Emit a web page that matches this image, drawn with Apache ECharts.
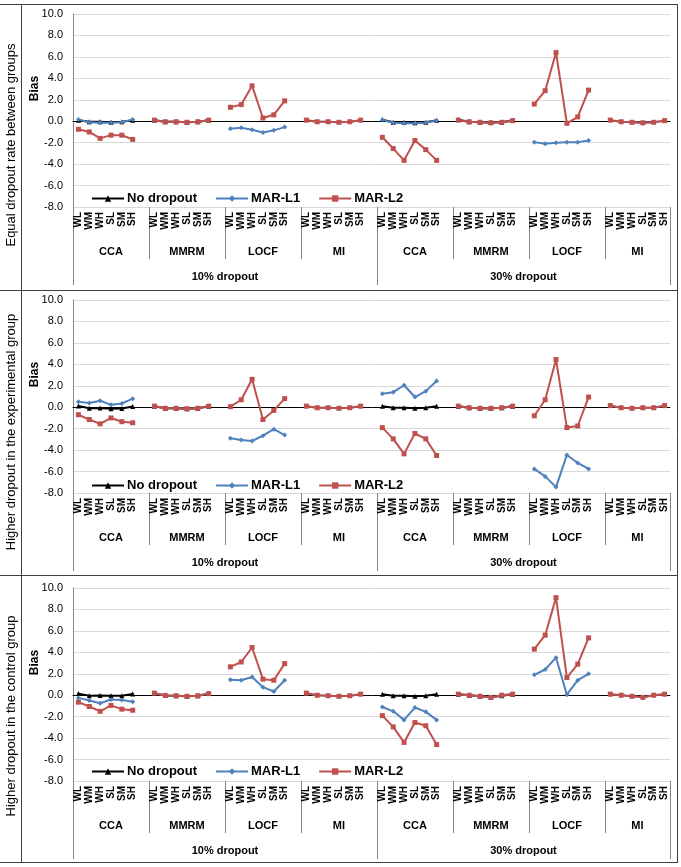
<!DOCTYPE html>
<html>
<head>
<meta charset="utf-8">
<script src="https://cdn.jsdelivr.net/npm/echarts@6.0.0/dist/echarts.min.js"></script>
<style>
  html, body { margin: 0; padding: 0; background: #fff; }
  #chart { width: 681px; height: 867px; }
</style>
</head>
<body>
<div id="chart"></div>
<script>
const scenarios = ['WL', 'WM', 'WH', 'SL', 'SM', 'SH']
const methods = ['CCA', 'MMRM', 'LOCF', 'MI']
const levels = ['10% dropout', '30% dropout']
const rowTitles = [
  'Equal dropout rate between groups',
  'Higher dropout in the experimental group',
  'Higher dropout in the control group',
]
const seriesNames = ['No dropout', 'MAR-L1', 'MAR-L2']

// values per panel, 8 groups x 6 scenarios (10%: CCA MMRM LOCF MI, 30%: CCA MMRM LOCF MI)
// no-dropout has no LOCF / MI values
const noDropEqual = [
  0.1, -0.05, -0.05, -0.1, -0.05, 0.1,   0.1, -0.05, -0.05, -0.1, -0.05, 0.1,
  null, null, null, null, null, null,    null, null, null, null, null, null,
  0.15, -0.1, -0.1, -0.15, -0.1, 0.1,    0.15, -0.05, -0.1, -0.1, -0.1, 0.1,
  null, null, null, null, null, null,    null, null, null, null, null, null,
]
const marL1Equal = [
  0.15, -0.1, -0.15, -0.15, -0.1, 0.15,  0.1, -0.05, -0.05, -0.1, -0.05, 0.1,
  -0.7, -0.6, -0.8, -1.05, -0.85, -0.55, 0.1, -0.05, -0.05, -0.1, -0.05, 0.1,
  0.12, -0.15, -0.2, -0.2, -0.15, 0.06,  0.1, -0.05, -0.1, -0.15, -0.1, 0.05,
  -1.95, -2.1, -2.0, -1.95, -1.95, -1.8, 0.1, -0.05, -0.1, -0.15, -0.1, 0.05,
]
const marL2Equal = [
  -0.75, -1.0, -1.6, -1.3, -1.3, -1.7,   0.1, -0.05, -0.05, -0.1, -0.05, 0.1,
  1.3, 1.55, 3.3, 0.3, 0.6, 1.9,         0.1, -0.05, -0.05, -0.1, -0.05, 0.1,
  -1.5, -2.55, -3.65, -1.8, -2.65, -3.65, 0.1, -0.05, -0.1, -0.15, -0.1, 0.05,
  1.6, 2.85, 6.4, -0.2, 0.4, 2.9,        0.1, -0.05, -0.1, -0.15, -0.1, 0.05,
]

const noDropExp = [
  0.12, -0.1, -0.08, -0.15, -0.12, 0.06, 0.1, -0.1, -0.1, -0.15, -0.1, 0.1,
  null, null, null, null, null, null,    null, null, null, null, null, null,
  0.1, -0.05, -0.05, -0.1, -0.05, 0.1,   0.1, -0.05, -0.1, -0.1, -0.05, 0.1,
  null, null, null, null, null, null,    null, null, null, null, null, null,
]
const marL1Exp = [
  0.5, 0.4, 0.6, 0.22, 0.35, 0.8,        0.1, -0.1, -0.1, -0.15, -0.1, 0.1,
  -2.9, -3.05, -3.15, -2.65, -2.05, -2.6, 0.1, -0.05, -0.05, -0.1, -0.05, 0.1,
  1.25, 1.4, 2.05, 0.95, 1.5, 2.45,      0.1, -0.05, -0.1, -0.1, -0.05, 0.1,
  -5.75, -6.45, -7.45, -4.45, -5.2, -5.75, 0.15, -0.05, -0.1, -0.05, -0.05, 0.15,
]
const marL2Exp = [
  -0.7, -1.15, -1.55, -1.0, -1.35, -1.45, 0.1, -0.1, -0.1, -0.15, -0.1, 0.1,
  0.05, 0.7, 2.6, -1.15, -0.3, 0.8,      0.1, -0.05, -0.05, -0.1, -0.05, 0.1,
  -1.9, -2.95, -4.35, -2.45, -2.95, -4.5, 0.1, -0.05, -0.1, -0.1, -0.05, 0.1,
  -0.8, 0.7, 4.45, -1.9, -1.75, 0.95,    0.15, -0.05, -0.1, -0.05, -0.05, 0.15,
]

const noDropCtrl = [
  0.15, -0.05, -0.02, -0.05, -0.05, 0.12, 0.15, -0.02, -0.05, -0.1, -0.05, 0.15,
  null, null, null, null, null, null,     null, null, null, null, null, null,
  0.1, -0.05, -0.05, -0.1, -0.05, 0.1,    0.1, 0, -0.1, -0.2, -0.05, 0.1,
  null, null, null, null, null, null,     null, null, null, null, null, null,
]
const marL1Ctrl = [
  -0.25, -0.5, -0.75, -0.4, -0.45, -0.6, 0.15, -0.02, -0.05, -0.1, -0.05, 0.15,
  1.45, 1.4, 1.7, 0.75, 0.35, 1.4,        0.15, 0, -0.05, -0.1, -0.05, 0.1,
  -1.1, -1.5, -2.3, -1.15, -1.55, -2.3,   0.1, 0, -0.1, -0.2, 0, 0.1,
  1.9, 2.4, 3.5, 0.05, 1.4, 2.0,          0.1, 0, -0.1, -0.2, 0, 0.1,
]
const marL2Ctrl = [
  -0.65, -1.05, -1.5, -0.95, -1.3, -1.4, 0.2, -0.02, -0.05, -0.1, -0.05, 0.15,
  2.65, 3.1, 4.45, 1.5, 1.4, 2.95,        0.2, 0, -0.05, -0.1, -0.05, 0.1,
  -1.9, -2.95, -4.4, -2.55, -2.85, -4.6,  0.1, 0, -0.1, -0.2, 0, 0.1,
  4.3, 5.6, 9.1, 1.65, 2.9, 5.35,         0.1, 0, -0.1, -0.2, 0, 0.1,
]

const panels = [
  [noDropEqual, marL1Equal, marL2Equal],
  [noDropExp, marL1Exp, marL2Exp],
  [noDropCtrl, marL1Ctrl, marL2Ctrl],
]

const colors = ['#000000', '#4F81BD', '#C0504D']
const symbols = ['triangle', 'diamond', 'rect']

// layout of the three panels (pixels)
const gridTops = [14, 300, 588]
const gridHeight = 193
const legendTops = [187, 474, 760]
const rowCenters = [145, 432, 716]
const hLines = [4.5, 290.5, 575.5, 862.5]

const FONT = '"Liberation Sans", Arial, sans-serif'

// groups: one gap category between groups, none after the last
const groups = []
levels.forEach((lv) => methods.forEach((m) => groups.push({ lv, m })))

const cats = []
groups.forEach((g, gi) => {
  scenarios.forEach((s) => cats.push(s))
  if (gi < groups.length - 1) cats.push('')
})
const nCats = cats.length

const padGaps = (vals) => {
  const out = []
  groups.forEach((g, gi) => {
    for (let k = 0; k < scenarios.length; k++) out.push(vals[gi * scenarios.length + k])
    if (gi < groups.length - 1) out.push(null)
  })
  return out
}

const groupStarts = groups.map((g, gi) => gi * (scenarios.length + 1))
const groupEnds = groups.map((g, gi) => Math.min(nCats, groupStarts[gi] + scenarios.length + 1))
const methodCenters = groups.map((g, gi) => (groupStarts[gi] + groupEnds[gi]) / 2)
const methodTicks = groupStarts.filter((s, i) => i > 0 && i % methods.length !== 0)
const levelTicks = [0, groupStarts[methods.length], nCats]
const levelCenters = [levelTicks[0] / 2 + levelTicks[1] / 2, levelTicks[1] / 2 + levelTicks[2] / 2]

const chart = echarts.init(document.getElementById('chart'))

const grid = []
const xAxis = []
const yAxis = []
const series = []
const legend = []

panels.forEach((panel, pi) => {
  grid.push({ left: 73, right: 11, top: gridTops[pi], height: gridHeight })

  yAxis.push({
    type: 'value',
    gridIndex: pi,
    min: -8,
    max: 10,
    interval: 2,
    name: 'Bias',
    nameLocation: 'middle',
    nameGap: 32,
    nameMoveOverlap: false,
    nameTextStyle: { fontFamily: FONT, fontWeight: 'bold', fontSize: 12, color: '#000', padding: [0, 0, 0, 44] },
    axisLabel: { formatter: (v) => v.toFixed(1), fontFamily: FONT, fontSize: 11, color: '#000', margin: 10 },
    axisLine: { show: true, lineStyle: { color: '#868686' } },
    axisTick: { show: false },
    splitLine: { lineStyle: { color: '#d9d9d9' } },
  })

  // zero line with tick marks
  xAxis.push({
    type: 'category',
    gridIndex: pi,
    data: cats,
    axisLine: { onZero: true, lineStyle: { color: '#000', width: 1 } },
    axisTick: { inside: true, length: 4, interval: 0, lineStyle: { color: '#000' } },
    axisLabel: { show: false },
    splitLine: { show: false },
  })
  // scenario labels
  xAxis.push({
    type: 'category',
    gridIndex: pi,
    data: cats,
    position: 'bottom',
    axisLine: { show: false, onZero: false },
    axisTick: { show: false },
    axisLabel: { interval: 0, rotate: 90, fontFamily: FONT, fontSize: 10, fontWeight: 'bold', color: '#000', margin: 5 },
    splitLine: { show: false },
  })
  // method labels and separators
  xAxis.push({
    type: 'value',
    gridIndex: pi,
    min: 0,
    max: nCats,
    position: 'bottom',
    axisLine: { show: false, onZero: false },
    splitLine: { show: false },
    axisTick: { show: true, customValues: methodTicks, length: 52, lineStyle: { color: '#868686' } },
    axisLabel: {
      customValues: methodCenters,
      formatter: (v) => {
        const i = methodCenters.indexOf(v)
        return i >= 0 ? groups[i].m : ''
      },
      fontFamily: FONT, fontSize: 11, fontWeight: 'bold', color: '#000', margin: 39,
    },
  })
  // dropout level labels and separators
  xAxis.push({
    type: 'value',
    gridIndex: pi,
    min: 0,
    max: nCats,
    position: 'bottom',
    axisLine: { show: false, onZero: false },
    splitLine: { show: false },
    axisTick: { show: true, customValues: levelTicks, length: 78, lineStyle: { color: '#868686' } },
    axisLabel: {
      customValues: levelCenters,
      formatter: (v) => {
        const i = levelCenters.indexOf(v)
        return i >= 0 ? levels[i] : ''
      },
      fontFamily: FONT, fontSize: 11, fontWeight: 'bold', color: '#000', margin: 64,
    },
  })

  panel.forEach((vals, si) => {
    series.push({
      type: 'line',
      name: seriesNames[si],
      xAxisIndex: pi * 4,
      yAxisIndex: pi,
      data: padGaps(vals),
      connectNulls: false,
      symbol: symbols[si],
      symbolSize: 5,
      showAllSymbol: true,
      lineStyle: { width: 2, color: colors[si] },
      itemStyle: { color: colors[si] },
      animation: false,
    })
  })

  legend.push({
    left: 86,
    top: legendTops[pi],
    itemWidth: 32,
    itemHeight: 8,
    itemGap: 18,
    data: seriesNames,
    textStyle: { fontFamily: FONT, fontWeight: 'bold', fontSize: 13, color: '#000', padding: [0, 0, 0, -2] },
  })
})

const graphic = []
rowTitles.forEach((t, i) => {
  graphic.push({
    type: 'text',
    x: 11,
    y: rowCenters[i],
    rotation: Math.PI / 2,
    style: { text: t, font: '13px ' + FONT, fill: '#000', align: 'center', verticalAlign: 'middle' },
  })
})
hLines.forEach((y) => {
  graphic.push({ type: 'line', shape: { x1: 0, y1: y, x2: 678, y2: y }, style: { stroke: '#404040', lineWidth: 1 } })
})
graphic.push({ type: 'line', shape: { x1: 21.5, y1: 4.5, x2: 21.5, y2: 862.5 }, style: { stroke: '#404040', lineWidth: 1 } })
graphic.push({ type: 'line', shape: { x1: 677.5, y1: 4.5, x2: 677.5, y2: 862.5 }, style: { stroke: '#404040', lineWidth: 1 } })

chart.setOption({
  animation: false,
  backgroundColor: '#fff',
  grid,
  xAxis,
  yAxis,
  legend,
  series,
  graphic,
})
</script>
</body>
</html>
